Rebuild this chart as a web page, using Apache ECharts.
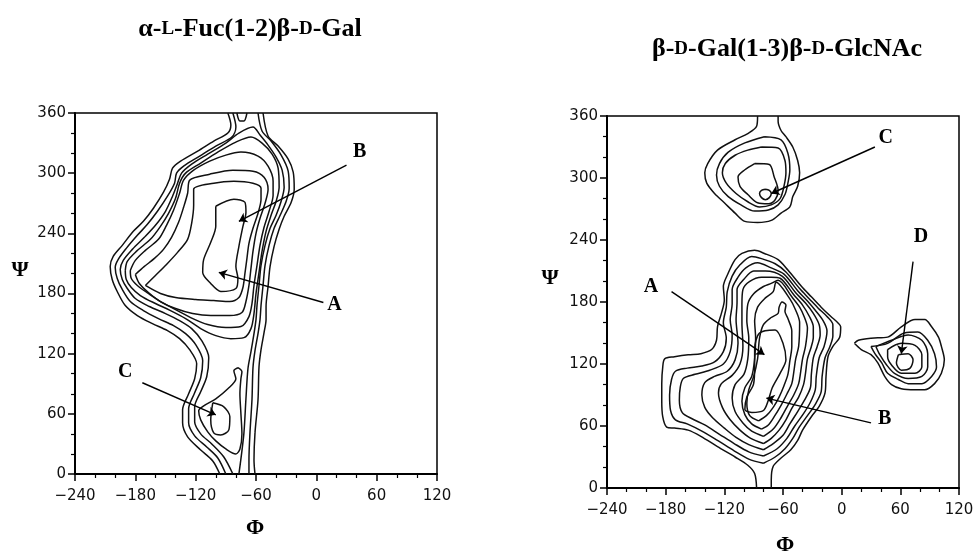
<!DOCTYPE html>
<html><head><meta charset="utf-8">
<script src="https://cdn.jsdelivr.net/npm/echarts@6/dist/echarts.min.js"></script>
<style>html,body{margin:0;padding:0;background:#fff}#c{width:976px;height:556px}</style>
</head><body><div id="c"></div>
<script>
// ---------- Axis ticks ----------
const phiTicks = [-240, -180, -120, -60, 0, 60, 120];
const psiTicks = [0, 60, 120, 180, 240, 300, 360];

// ---------- Left panel: alpha-L-Fuc(1-2)beta-D-Gal  (Phi, Psi) contour lines ----------
const fucL1a = [[-88,360],[-85,348],[-88,340],[-102,332],[-118,322],[-135,312],[-143,305],[-146,294],[-152,281],[-162,265],[-172,252],[-182,242],[-193,228],[-202,217],[-205,207],[-203,194],[-198,182],[-190,168],[-178,158],[-163,150],[-148,143],[-136,135],[-126,124],[-119,110],[-121,95],[-127,80],[-133,64],[-133,51],[-128,37],[-115,24],[-103,13],[-96,0]];
const fucL1b = [[-53,360],[-48,337],[-38,327],[-28,314],[-23,301],[-22,284],[-25,271],[-32,257],[-37,244],[-42,227],[-46,207],[-48,187],[-50,167],[-50,154],[-52,141],[-55,124],[-57,107],[-58,74],[-61,41],[-62,14],[-61,0]];
const fucL2a = [[-83,360],[-80,346],[-84,336],[-100,327],[-116,317],[-132,307],[-139,300],[-141,290],[-148,277],[-158,262],[-168,249],[-178,238],[-189,225],[-197,214],[-200,206],[-198,195],[-193,184],[-185,172],[-172,163],[-157,155],[-142,148],[-130,140],[-120,129],[-113,113],[-115,96],[-121,81],[-127,65],[-127,51],[-121,38],[-109,27],[-98,16],[-90,0]];
const fucL2b = [[-58,360],[-54,342],[-45,332],[-35,318],[-28,302],[-27,285],[-30,272],[-36,258],[-42,245],[-47,228],[-51,208],[-53,188],[-55,168],[-56,154],[-58,140],[-61,123],[-63,106],[-64,74],[-66,41],[-67,14],[-67,0]];
const fucL3 = [[-83,0],[-92,17],[-104,30],[-115,40],[-121,52],[-121,67],[-115,82],[-109,97],[-107,116],[-114,133],[-124,145],[-136,153],[-150,160],[-166,167],[-180,175],[-188,185],[-193,194],[-195,204],[-192,213],[-183,224],[-171,236],[-160,248],[-150,262],[-143,277],[-138,290],[-134,300],[-124,309],[-108,319],[-90,330],[-77,340],[-63,346],[-56,338],[-48,328],[-40,316],[-34,303],[-32,286],[-35,272],[-40,258],[-46,245],[-51,228],[-55,208],[-57,188],[-59,168],[-60,154],[-62,140],[-65,122],[-68,105],[-70,75],[-72,41],[-75,15],[-77,0]];
const fucV = [[-79,360],[-76,352],[-72,352],[-69,360]];
const fucL4 = [[-190,203],[-188,212],[-179,222],[-165,234],[-155,247],[-147,260],[-140,275],[-136,290],[-130,300],[-115,310],[-98,321],[-80,331],[-65,336],[-54,330],[-44,319],[-38,305],[-37,286],[-40,272],[-45,258],[-50,242],[-54,222],[-57,201],[-60,180],[-62,160],[-65,145],[-72,136],[-85,135],[-100,138],[-115,145],[-130,155],[-145,163],[-160,170],[-175,178],[-184,186],[-189,194],[-190,203]];
const fucL5 = [[-185,203],[-180,213],[-170,223],[-157,234],[-149,248],[-142,263],[-136,280],[-132,293],[-122,303],[-106,312],[-90,318],[-75,321],[-58,317],[-48,307],[-43,292],[-43,278],[-47,262],[-52,246],[-56,228],[-59,208],[-62,188],[-64,170],[-67,157],[-75,147],[-90,146],[-108,149],[-125,156],[-140,164],[-155,172],[-167,180],[-178,188],[-184,195],[-185,203]];
const fucL6 = [[-180,199],[-171,207],[-161,215],[-152,224],[-144,236],[-137,251],[-132,266],[-128,280],[-126,293],[-106,299],[-83,303],[-63,302],[-52,296],[-48,284],[-51,270],[-56,255],[-60,240],[-63,222],[-65,205],[-67,188],[-70,172],[-74,161],[-86,158],[-105,158],[-123,160],[-140,165],[-155,172],[-167,181],[-176,190],[-180,199]];
const fucL7 = [[-170,188],[-160,198],[-149,209],[-138,221],[-128,234],[-124,250],[-122,268],[-122,284],[-102,290],[-82,292],[-63,290],[-55,285],[-55,274],[-58,260],[-63,245],[-67,230],[-69,215],[-71,200],[-73,186],[-77,176],[-86,172],[-102,173],[-120,174],[-140,176],[-155,180],[-170,188]];
const fucL8 = [[-100,267],[-82,274],[-71,271],[-70,261],[-73,247],[-77,227],[-80,207],[-78,195],[-80,185],[-95,182],[-105,190],[-113,201],[-112,214],[-105,231],[-100,247],[-100,261],[-100,267]];
const fucC4 = [[-78,106],[-74,102],[-75,95],[-76,80],[-75,60],[-74,40],[-76,25],[-80,20],[-90,25],[-100,33],[-108,42],[-115,54],[-117,63],[-112,68],[-100,75],[-88,85],[-80,95],[-82,103],[-78,106]];
const fucC5 = [[-103,71],[-92,67],[-86,57],[-87,44],[-95,39],[-102,41],[-105,54],[-103,71]];

const fucLabelNames = ['A', 'B', 'C'];
const fucLabelPos = [[18,169],[43,321],[-190,102]];
const fucArrowFrom = [[7,171],[30,308],[-173,91]];
const fucArrowTo = [[-97,201],[-77,252],[-100,59]];

// ---------- Right panel: beta-D-Gal(1-3)beta-D-GlcNAc ----------
const galM1 = [[-87,0],[-89,14],[-96,22],[-109,30],[-127,40],[-144,50],[-157,56],[-171,58],[-179,59],[-183,69],[-184,85],[-184,101],[-183,117],[-181,125],[-171,127],[-157,129],[-144,130],[-133,134],[-128,143],[-127,156],[-123,169],[-120,182],[-121,195],[-116,208],[-109,221],[-102,227],[-89,230],[-79,227],[-65,221],[-55,211],[-41,195],[-31,185],[-21,175],[-11,166],[-4,160],[-1,156],[-2,146],[-9,137],[-14,127],[-16,108],[-17,92],[-23,79],[-31,69],[-40,56],[-45,46],[-52,37],[-62,29],[-70,21],[-72,8],[-72,0]];
const galM2 = [[-80,24],[-95,28],[-110,36],[-127,46],[-143,55],[-158,62],[-170,66],[-175,75],[-176,90],[-174,105],[-170,113],[-158,116],[-143,118],[-130,122],[-121,132],[-118,145],[-121,160],[-118,175],[-117,190],[-112,205],[-104,216],[-92,224],[-82,222],[-68,217],[-57,209],[-43,193],[-33,183],[-24,174],[-15,166],[-9,158],[-9,147],[-12,137],[-17,126],[-20,108],[-21,93],[-27,81],[-35,70],[-44,58],[-50,48],[-58,38],[-68,30],[-80,24]];
const galM3 = [[-80,31],[-95,35],[-110,43],[-125,52],[-140,61],[-153,67],[-163,73],[-166,85],[-165,98],[-162,106],[-150,110],[-135,114],[-121,120],[-114,132],[-112,148],[-114,163],[-112,178],[-112,192],[-106,204],[-98,213],[-86,218],[-72,213],[-59,207],[-45,191],[-35,181],[-27,172],[-19,162],[-15,152],[-18,137],[-23,126],[-26,108],[-27,95],[-32,83],[-39,72],[-48,60],[-56,48],[-66,38],[-80,31]];
const galM4 = [[-80,37],[-95,42],[-108,49],[-120,58],[-132,68],[-140,78],[-143,90],[-140,102],[-130,108],[-117,113],[-109,124],[-106,140],[-108,163],[-107,180],[-107,192],[-100,202],[-90,210],[-78,210],[-61,205],[-47,189],[-37,179],[-29,169],[-23,158],[-22,148],[-25,137],[-29,126],[-31,110],[-32,97],[-38,85],[-45,74],[-53,62],[-60,51],[-70,43],[-80,37]];
const galM5 = [[-80,43],[-93,48],[-104,56],[-114,66],[-122,78],[-126,92],[-123,101],[-112,109],[-104,120],[-101,137],[-102,160],[-102,178],[-101,192],[-94,200],[-82,204],[-72,204],[-63,203],[-49,187],[-40,177],[-33,166],[-29,156],[-29,146],[-31,137],[-35,125],[-37,111],[-39,100],[-44,88],[-51,77],[-57,66],[-64,56],[-72,48],[-80,43]];
const galM6 = [[-80,50],[-92,55],[-101,63],[-109,74],[-112,87],[-109,100],[-100,110],[-96,125],[-95,145],[-97,162],[-96,178],[-90,188],[-80,195],[-72,198],[-65,201],[-51,185],[-43,175],[-38,165],[-35,155],[-37,137],[-40,125],[-42,112],[-44,101],[-49,90],[-55,80],[-62,68],[-70,57],[-80,50]];
const galM7 = [[-82,57],[-92,62],[-99,71],[-102,84],[-99,97],[-92,108],[-89,125],[-88,145],[-89,162],[-86,175],[-78,184],[-70,190],[-67,199],[-53,183],[-47,172],[-43,160],[-44,137],[-47,125],[-49,112],[-51,101],[-56,91],[-62,80],[-69,69],[-75,61],[-82,57]];
const galM8 = [[-85,65],[-94,70],[-97,82],[-95,95],[-90,108],[-86,125],[-84,145],[-80,158],[-72,165],[-65,169],[-64,175],[-61,180],[-57,177],[-58,171],[-55,164],[-51,152],[-51,137],[-53,123],[-55,110],[-59,99],[-64,88],[-70,78],[-77,70],[-85,65]];
const galM9 = [[-92,73],[-99,76],[-97,88],[-90,101],[-89,118],[-89,134],[-84,150],[-68,153],[-60,140],[-57,124],[-63,111],[-71,97],[-75,85],[-80,75],[-92,73]];
const galC1 = [[-86,360],[-87,350],[-96,343],[-109,337],[-127,327],[-137,314],[-140,305],[-138,295],[-130,285],[-120,276],[-109,266],[-99,258],[-86,257],[-72,259],[-62,266],[-53,272],[-50,282],[-45,292],[-43,305],[-45,317],[-50,330],[-57,340],[-62,346],[-65,355],[-65,360]];
const galC2 = [[-79,340],[-62,337],[-55,324],[-53,308],[-55,295],[-58,284],[-65,274],[-75,269],[-89,268],[-103,274],[-116,282],[-125,292],[-128,303],[-125,314],[-116,325],[-99,334],[-79,340]];
const galC3 = [[-82,330],[-65,329],[-58,317],[-57,305],[-59,292],[-63,280],[-72,274],[-84,272],[-96,277],[-108,285],[-118,295],[-122,305],[-119,314],[-109,322],[-96,327],[-82,330]];
const galC4 = [[-89,314],[-74,313],[-69,301],[-65,288],[-68,279],[-75,275],[-86,276],[-96,284],[-104,292],[-106,301],[-99,308],[-89,314]];
const galC5 = [[-78,289],[-74,288],[-72,285],[-74,281],[-78,279],[-82,281],[-84,285],[-82,288],[-78,289]];
const galD1 = [[13,140],[17,143],[30,145],[47,146],[61,156],[75,163],[85,163],[92,156],[99,146],[102,137],[105,124],[102,111],[95,101],[85,95],[75,95],[61,96],[51,100],[44,108],[37,121],[30,129],[20,134],[13,140]];
const galD2 = [[30,137],[47,140],[64,150],[78,151],[88,143],[95,130],[97,117],[92,108],[82,101],[68,101],[58,105],[47,111],[41,121],[34,130],[30,137]];
const galD3 = [[35,137],[51,143],[68,148],[82,143],[88,130],[88,117],[82,108],[68,106],[54,111],[46,119],[39,129],[35,137]];
const galD4 = [[47,134],[61,140],[75,138],[82,129],[82,117],[75,111],[61,111],[51,119],[47,127],[47,134]];
const galD5 = [[58,129],[68,130],[73,124],[70,116],[61,114],[56,121],[58,129]];

const galLabelNames = ['A', 'B', 'C', 'D'];
const galLabelPos = [[-195,195],[44,67],[45,339],[81,243]];
const galArrowFrom = [[-174,190],[30,63],[34,330],[73,219]];
const galArrowTo = [[-79,129],[-77,87],[-72,285],[61,130]];

const fucContours = [fucL1a, fucL1b, fucL2a, fucL2b, fucL3, fucV, fucL4, fucL5, fucL6, fucL7, fucL8, fucC4, fucC5];
const galContours = [galM1, galM2, galM3, galM4, galM5, galM6, galM7, galM8, galM9, galC1, galC2, galC3, galC4, galC5, galD1, galD2, galD3, galD4, galD5];

// ---------- build ----------
const INK = '#000';
const fmt = v => v < 0 ? '\u2212' + Math.abs(v) : String(v);

function xAx(gi) {
  return {
    type: 'value', gridIndex: gi, min: phiTicks[0], max: phiTicks[phiTicks.length - 1], interval: 60,
    axisLine: { onZero: false, lineStyle: { color: INK, width: 2 } },
    axisTick: { length: 7, lineStyle: { color: INK, width: 1.5 } },
    minorTick: { show: true, splitNumber: 3, length: 4, lineStyle: { color: INK, width: 1.2 } },
    splitLine: { show: false }, minorSplitLine: { show: false },
    axisLabel: { margin: 15, fontFamily: 'DejaVu Sans', fontSize: 15, color: '#111', formatter: fmt }
  };
}
function yAx(gi) {
  return {
    type: 'value', gridIndex: gi, min: psiTicks[0], max: psiTicks[psiTicks.length - 1], interval: 60,
    axisLine: { onZero: false, lineStyle: { color: INK, width: 2 } },
    axisTick: { length: 7, lineStyle: { color: INK, width: 1.5 } },
    minorTick: { show: true, splitNumber: 3, length: 4, lineStyle: { color: INK, width: 1.2 } },
    splitLine: { show: false }, minorSplitLine: { show: false },
    axisLabel: { margin: 9, fontFamily: 'DejaVu Sans', fontSize: 15, color: '#111', formatter: fmt }
  };
}
function contour(data, gi) {
  return { type: 'line', xAxisIndex: gi, yAxisIndex: gi, data: data, symbol: 'none', showSymbol: false,
    smooth: 0.3, lineStyle: { color: '#111', width: 1.5 }, silent: true, animation: false, z: 3 };
}
function labels(names, pos, from, to, gi) {
  return {
    type: 'scatter', xAxisIndex: gi, yAxisIndex: gi, symbolSize: 1, itemStyle: { color: 'rgba(0,0,0,0)' },
    silent: true, animation: false, z: 5,
    data: names.map((n, i) => ({ name: n, value: pos[i] })),
    label: { show: true, position: 'inside', formatter: '{b}', fontFamily: 'Liberation Serif', fontWeight: 'bold', fontSize: 20,
      color: '#000', textBorderWidth: 0, textShadowBlur: 0, opacity: 1 },
    markLine: {
      silent: true, animation: false, symbol: ['none', 'arrow'], symbolSize: 8,
      lineStyle: { color: '#000', width: 1.4, type: 'solid', opacity: 1 }, label: { show: false },
      emphasis: { disabled: true },
      data: from.map((f, i) => [{ coord: f }, { coord: to[i] }])
    }
  };
}

const series = [];
fucContours.forEach(c => series.push(contour(c, 0)));
galContours.forEach(c => series.push(contour(c, 1)));
series.push(labels(fucLabelNames, fucLabelPos, fucArrowFrom, fucArrowTo, 0));
series.push(labels(galLabelNames, galLabelPos, galArrowFrom, galArrowTo, 1));

const serif = '"Liberation Serif", "Times New Roman", serif';
function title(x, y, parts) {
  return { type: 'text', x: x, y: y, silent: true, style: {
    text: parts, align: 'center', verticalAlign: 'middle', fill: INK,
    font: 'bold 26px ' + serif,
    rich: { n: { fontSize: 26, fontWeight: 'bold', fontFamily: serif, fill: INK },
            s: { fontSize: 19, fontWeight: 'bold', fontFamily: serif, fill: INK } }
  } };
}
function sym(x, y, t) {
  return { type: 'text', x: x, y: y, silent: true, style: { text: t, align: 'center', verticalAlign: 'middle', fill: INK, font: 'bold 22px ' + serif } };
}

const chart = echarts.init(document.getElementById('c'), null, { renderer: 'canvas' });
chart.setOption({
  animation: false,
  backgroundColor: '#fff',
  grid: [
    { left: 75, top: 113, width: 362, height: 361, show: true, borderColor: INK, borderWidth: 1.5, backgroundColor: 'transparent', outerBoundsMode: 'none' },
    { left: 607, top: 116, width: 352, height: 372, show: true, borderColor: INK, borderWidth: 1.5, backgroundColor: 'transparent', outerBoundsMode: 'none' }
  ],
  xAxis: [xAx(0), xAx(1)],
  yAxis: [yAx(0), yAx(1)],
  series: series,
  graphic: [
    title(250, 29, '{n|\u03b1-}{s|L}{n|-Fuc(1-2)\u03b2-}{s|D}{n|-Gal}'),
    title(787, 49, '{n|\u03b2-}{s|D}{n|-Gal(1-3)\u03b2-}{s|D}{n|-GlcNAc}'),
    sym(20, 270, '\u03a8'), sym(255, 528, '\u03a6'),
    sym(550, 278, '\u03a8'), sym(785, 545, '\u03a6')
  ]
});
</script></body></html>
